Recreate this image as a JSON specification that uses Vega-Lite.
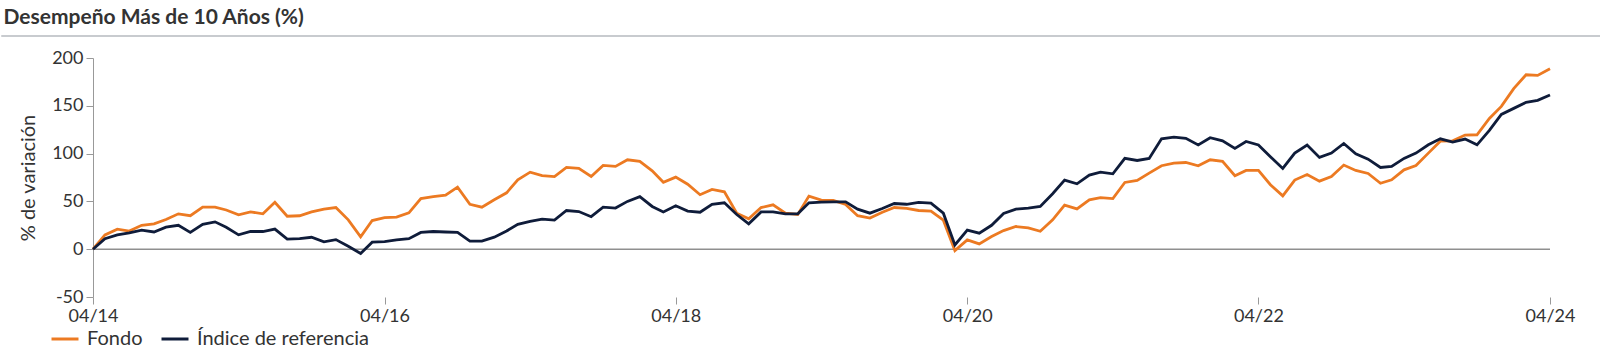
{
  "$schema": "https://vega.github.io/schema/vega-lite/v6.json",
  "background": "white",
  "padding": {"left": 0, "right": 0, "top": 6, "bottom": 0},
  "spacing": 12,
  "config": {
    "view": {"stroke": null},
    "font": "Lato",
    "title": {"font": "Lato"},
    "axis": {"labelFont": "Lato", "titleFont": "Lato"},
    "legend": {"labelFont": "Lato"}
  },
  "datasets": {
    "perf": [
      {"fecha": "2014-04-01", "Fondo": 0, "Índice de referencia": 0},
      {"fecha": "2014-05-01", "Fondo": 15, "Índice de referencia": 11},
      {"fecha": "2014-06-01", "Fondo": 21, "Índice de referencia": 15},
      {"fecha": "2014-07-01", "Fondo": 19, "Índice de referencia": 17},
      {"fecha": "2014-08-01", "Fondo": 25, "Índice de referencia": 20},
      {"fecha": "2014-09-01", "Fondo": 26.5, "Índice de referencia": 18},
      {"fecha": "2014-10-01", "Fondo": 31, "Índice de referencia": 23},
      {"fecha": "2014-11-01", "Fondo": 37, "Índice de referencia": 25},
      {"fecha": "2014-12-01", "Fondo": 35, "Índice de referencia": 17.5},
      {"fecha": "2015-01-01", "Fondo": 44, "Índice de referencia": 26},
      {"fecha": "2015-02-01", "Fondo": 44, "Índice de referencia": 28.6},
      {"fecha": "2015-03-01", "Fondo": 41, "Índice de referencia": 23},
      {"fecha": "2015-04-01", "Fondo": 36, "Índice de referencia": 15},
      {"fecha": "2015-05-01", "Fondo": 39, "Índice de referencia": 18.5},
      {"fecha": "2015-06-01", "Fondo": 37, "Índice de referencia": 18.5},
      {"fecha": "2015-07-01", "Fondo": 49, "Índice de referencia": 21},
      {"fecha": "2015-08-01", "Fondo": 34.5, "Índice de referencia": 10.5},
      {"fecha": "2015-09-01", "Fondo": 35, "Índice de referencia": 11},
      {"fecha": "2015-10-01", "Fondo": 39, "Índice de referencia": 12.5},
      {"fecha": "2015-11-01", "Fondo": 42, "Índice de referencia": 7.7},
      {"fecha": "2015-12-01", "Fondo": 43.6, "Índice de referencia": 10},
      {"fecha": "2016-01-01", "Fondo": 30.7, "Índice de referencia": 3},
      {"fecha": "2016-02-01", "Fondo": 13, "Índice de referencia": -4.5},
      {"fecha": "2016-03-01", "Fondo": 30, "Índice de referencia": 7.3},
      {"fecha": "2016-04-01", "Fondo": 33, "Índice de referencia": 8},
      {"fecha": "2016-05-01", "Fondo": 33.5, "Índice de referencia": 9.8},
      {"fecha": "2016-06-01", "Fondo": 38, "Índice de referencia": 11},
      {"fecha": "2016-07-01", "Fondo": 53, "Índice de referencia": 17.5},
      {"fecha": "2016-08-01", "Fondo": 55, "Índice de referencia": 18.5},
      {"fecha": "2016-09-01", "Fondo": 56.5, "Índice de referencia": 18},
      {"fecha": "2016-10-01", "Fondo": 65, "Índice de referencia": 17.5},
      {"fecha": "2016-11-01", "Fondo": 47, "Índice de referencia": 8.4},
      {"fecha": "2016-12-01", "Fondo": 44, "Índice de referencia": 8.4},
      {"fecha": "2017-01-01", "Fondo": 51.7, "Índice de referencia": 12.6},
      {"fecha": "2017-02-01", "Fondo": 59, "Índice de referencia": 19},
      {"fecha": "2017-03-01", "Fondo": 72.6, "Índice de referencia": 26},
      {"fecha": "2017-04-01", "Fondo": 80.6, "Índice de referencia": 29},
      {"fecha": "2017-05-01", "Fondo": 77, "Índice de referencia": 31.4},
      {"fecha": "2017-06-01", "Fondo": 76, "Índice de referencia": 30.4},
      {"fecha": "2017-07-01", "Fondo": 85.5, "Índice de referencia": 40.5},
      {"fecha": "2017-08-01", "Fondo": 84.5, "Índice de referencia": 39.4},
      {"fecha": "2017-09-01", "Fondo": 76, "Índice de referencia": 34},
      {"fecha": "2017-10-01", "Fondo": 87.6, "Índice de referencia": 44},
      {"fecha": "2017-11-01", "Fondo": 86.6, "Índice de referencia": 43},
      {"fecha": "2017-12-01", "Fondo": 93.5, "Índice de referencia": 50},
      {"fecha": "2018-01-01", "Fondo": 91.8, "Índice de referencia": 55},
      {"fecha": "2018-02-01", "Fondo": 82, "Índice de referencia": 44.7},
      {"fecha": "2018-03-01", "Fondo": 70, "Índice de referencia": 39},
      {"fecha": "2018-04-01", "Fondo": 75.4, "Índice de referencia": 45.4},
      {"fecha": "2018-05-01", "Fondo": 68, "Índice de referencia": 39.8},
      {"fecha": "2018-06-01", "Fondo": 57, "Índice de referencia": 38.7},
      {"fecha": "2018-07-01", "Fondo": 62.5, "Índice de referencia": 47},
      {"fecha": "2018-08-01", "Fondo": 60, "Índice de referencia": 48.5},
      {"fecha": "2018-09-01", "Fondo": 37.7, "Índice de referencia": 36.3},
      {"fecha": "2018-10-01", "Fondo": 31.8, "Índice de referencia": 26.5},
      {"fecha": "2018-11-01", "Fondo": 43.6, "Índice de referencia": 39},
      {"fecha": "2018-12-01", "Fondo": 46.4, "Índice de referencia": 39},
      {"fecha": "2019-01-01", "Fondo": 37.7, "Índice de referencia": 37},
      {"fecha": "2019-02-01", "Fondo": 36.3, "Índice de referencia": 37},
      {"fecha": "2019-03-01", "Fondo": 55.5, "Índice de referencia": 48.5},
      {"fecha": "2019-04-01", "Fondo": 51.3, "Índice de referencia": 49.2},
      {"fecha": "2019-05-01", "Fondo": 51, "Índice de referencia": 49.6},
      {"fecha": "2019-06-01", "Fondo": 46.8, "Índice de referencia": 49.6},
      {"fecha": "2019-07-01", "Fondo": 35, "Índice de referencia": 41.9},
      {"fecha": "2019-08-01", "Fondo": 32.5, "Índice de referencia": 37.7},
      {"fecha": "2019-09-01", "Fondo": 38.7, "Índice de referencia": 42.6},
      {"fecha": "2019-10-01", "Fondo": 43.6, "Índice de referencia": 47.8},
      {"fecha": "2019-11-01", "Fondo": 42.6, "Índice de referencia": 47},
      {"fecha": "2019-12-01", "Fondo": 40.5, "Índice de referencia": 48.9},
      {"fecha": "2020-01-01", "Fondo": 39.8, "Índice de referencia": 48.2},
      {"fecha": "2020-02-01", "Fondo": 30.4, "Índice de referencia": 37.7},
      {"fecha": "2020-03-01", "Fondo": -1.4, "Índice de referencia": 4.5},
      {"fecha": "2020-04-01", "Fondo": 9.8, "Índice de referencia": 19.9},
      {"fecha": "2020-05-01", "Fondo": 5.6, "Índice de referencia": 16.8},
      {"fecha": "2020-06-01", "Fondo": 13.3, "Índice de referencia": 25},
      {"fecha": "2020-07-01", "Fondo": 19.5, "Índice de referencia": 37.3},
      {"fecha": "2020-08-01", "Fondo": 23.7, "Índice de referencia": 41.9},
      {"fecha": "2020-09-01", "Fondo": 22.3, "Índice de referencia": 43},
      {"fecha": "2020-10-01", "Fondo": 18.8, "Índice de referencia": 44.7},
      {"fecha": "2020-11-01", "Fondo": 30.7, "Índice de referencia": 58},
      {"fecha": "2020-12-01", "Fondo": 46, "Índice de referencia": 72.3},
      {"fecha": "2021-01-01", "Fondo": 42.2, "Índice de referencia": 68.4},
      {"fecha": "2021-02-01", "Fondo": 51.7, "Índice de referencia": 77.5},
      {"fecha": "2021-03-01", "Fondo": 54, "Índice de referencia": 80.6},
      {"fecha": "2021-04-01", "Fondo": 53, "Índice de referencia": 78.9},
      {"fecha": "2021-05-01", "Fondo": 69.8, "Índice de referencia": 95},
      {"fecha": "2021-06-01", "Fondo": 71.9, "Índice de referencia": 92.8},
      {"fecha": "2021-07-01", "Fondo": 79.6, "Índice de referencia": 95},
      {"fecha": "2021-08-01", "Fondo": 87.3, "Índice de referencia": 115.5},
      {"fecha": "2021-09-01", "Fondo": 90, "Índice de referencia": 117.3},
      {"fecha": "2021-10-01", "Fondo": 90.7, "Índice de referencia": 116},
      {"fecha": "2021-11-01", "Fondo": 87.3, "Índice de referencia": 109},
      {"fecha": "2021-12-01", "Fondo": 93.5, "Índice de referencia": 116.6},
      {"fecha": "2022-01-01", "Fondo": 91.8, "Índice de referencia": 113.4},
      {"fecha": "2022-02-01", "Fondo": 76.8, "Índice de referencia": 105.4},
      {"fecha": "2022-03-01", "Fondo": 82.4, "Índice de referencia": 112.7},
      {"fecha": "2022-04-01", "Fondo": 82.4, "Índice de referencia": 109},
      {"fecha": "2022-05-01", "Fondo": 67.4, "Índice de referencia": 96.7},
      {"fecha": "2022-06-01", "Fondo": 55.8, "Índice de referencia": 84.5},
      {"fecha": "2022-07-01", "Fondo": 72.3, "Índice de referencia": 100.5},
      {"fecha": "2022-08-01", "Fondo": 78.2, "Índice de referencia": 109},
      {"fecha": "2022-09-01", "Fondo": 71.2, "Índice de referencia": 96},
      {"fecha": "2022-10-01", "Fondo": 76, "Índice de referencia": 100.5},
      {"fecha": "2022-11-01", "Fondo": 88, "Índice de referencia": 110.6},
      {"fecha": "2022-12-01", "Fondo": 82.4, "Índice de referencia": 99.8},
      {"fecha": "2023-01-01", "Fondo": 79.2, "Índice de referencia": 94.2},
      {"fecha": "2023-02-01", "Fondo": 69, "Índice de referencia": 85.5},
      {"fecha": "2023-03-01", "Fondo": 72.6, "Índice de referencia": 86.6},
      {"fecha": "2023-04-01", "Fondo": 83, "Índice de referencia": 95},
      {"fecha": "2023-05-01", "Fondo": 87.6, "Índice de referencia": 100.5},
      {"fecha": "2023-06-01", "Fondo": 100.5, "Índice de referencia": 109.2},
      {"fecha": "2023-07-01", "Fondo": 113, "Índice de referencia": 115.5},
      {"fecha": "2023-08-01", "Fondo": 113.4, "Índice de referencia": 112},
      {"fecha": "2023-09-01", "Fondo": 119.4, "Índice de referencia": 115.2},
      {"fecha": "2023-10-01", "Fondo": 119.7, "Índice de referencia": 109.2},
      {"fecha": "2023-11-01", "Fondo": 136.8, "Índice de referencia": 124.3},
      {"fecha": "2023-12-01", "Fondo": 149.4, "Índice de referencia": 141},
      {"fecha": "2024-01-01", "Fondo": 168, "Índice de referencia": 147.3},
      {"fecha": "2024-02-01", "Fondo": 182.5, "Índice de referencia": 153.6},
      {"fecha": "2024-03-01", "Fondo": 181.8, "Índice de referencia": 155.7},
      {"fecha": "2024-04-01", "Fondo": 188.8, "Índice de referencia": 161.3}
    ]
  },
  "vconcat": [
    {
      "data": {"values": [{}]},
      "title": {"text": "Desempeño Más de 10 Años (%)", "anchor": "start", "fontSize": 21, "fontWeight": "bold", "color": "#333333", "offset": 7, "dx": 3},
      "width": 1600,
      "height": 1,
      "view": {"stroke": "#c8cbcf", "strokeWidth": 1},
      "mark": {"type": "rule", "opacity": 0},
      "encoding": {}
    },
    {
      "spacing": 16,
      "hconcat": [
        {
          "data": {"values": [{}]},
          "width": 1,
          "height": 239,
          "mark": {"type": "rule", "opacity": 0},
          "encoding": {}
        },
        {
          "width": 1457,
          "height": 239,
          "layer": [
            {
              "data": {"values": [{}]},
              "mark": {"type": "rule", "color": "#8f8f8f", "strokeWidth": 1.5},
              "encoding": {"y": {"datum": 0, "type": "quantitative"}}
            },
            {
              "data": {"name": "perf"},
              "transform": [{"fold": ["Fondo", "Índice de referencia"], "as": ["serie", "valor"]}],
              "mark": {"type": "line", "strokeWidth": 2.8},
              "encoding": {
                "x": {
                  "field": "fecha",
                  "type": "temporal",
                  "scale": {"type": "utc", "domain": [{"year": 2014, "month": 4, "date": 1, "utc": true}, {"year": 2024, "month": 4, "date": 1, "utc": true}]},
                  "axis": {
                    "title": null,
                    "values": [
                      {"year": 2014, "month": 4, "date": 1, "utc": true},
                      {"year": 2016, "month": 4, "date": 1, "utc": true},
                      {"year": 2018, "month": 4, "date": 1, "utc": true},
                      {"year": 2020, "month": 4, "date": 1, "utc": true},
                      {"year": 2022, "month": 4, "date": 1, "utc": true},
                      {"year": 2024, "month": 4, "date": 1, "utc": true}
                    ],
                    "labelExpr": "utcFormat(datum.value, '%m/%y')",
                    "domain": false,
                    "grid": false,
                    "ticks": true,
                    "tickColor": "#999999",
                    "tickSize": 7,
                    "labelFontSize": 18,
                    "labelColor": "#333333",
                    "labelPadding": 3,
                    "labelFlush": false
                  }
                },
                "y": {
                  "field": "valor",
                  "type": "quantitative",
                  "scale": {"domain": [-50, 200], "nice": false, "zero": false},
                  "axis": {
                    "title": "% de variación",
                    "values": [-50, 0, 50, 100, 150, 200],
                    "labelExpr": "'' + datum.value",
                    "grid": false,
                    "domain": true,
                    "domainColor": "#999999",
                    "tickColor": "#999999",
                    "tickSize": 7,
                    "labelFontSize": 18,
                    "labelColor": "#333333",
                    "labelPadding": 3,
                    "titleFontSize": 20,
                    "titleFontWeight": "normal",
                    "titleColor": "#333333",
                    "titlePadding": 13
                  }
                },
                "color": {
                  "field": "serie",
                  "type": "nominal",
                  "scale": {"domain": ["Fondo", "Índice de referencia"], "range": ["#EC7A22", "#0F1C3A"]},
                  "legend": {
                    "title": null,
                    "orient": "none",
                    "direction": "horizontal",
                    "legendX": 49,
                    "legendY": 289,
                    "symbolType": "stroke",
                    "symbolSize": 729,
                    "symbolStrokeWidth": 3,
                    "labelFontSize": 20,
                    "labelLimit": 500,
                    "labelColor": "#333333",
                    "labelOffset": 7,
                    "columnPadding": 12,
                    "padding": 0
                  }
                }
              }
            }
          ]
        }
      ]
    }
  ]
}
